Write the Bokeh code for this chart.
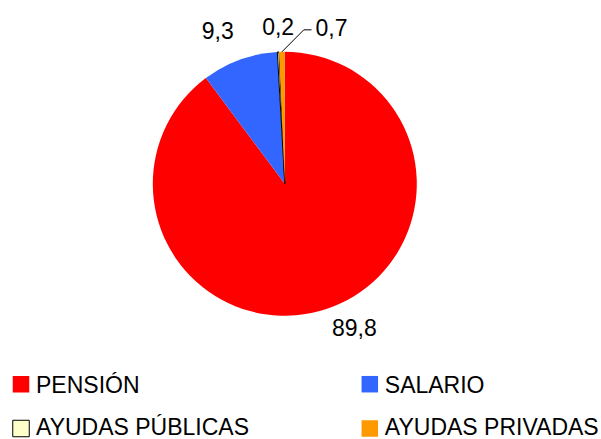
import numpy as np
from bokeh.plotting import figure
from bokeh.models import ColumnDataSource, Range1d
from bokeh.core.properties import value
from bokeh.embed import file_html
from bokeh.resources import INLINE

# ---- data ----
categories = ["PENSIÓN", "SALARIO", "AYUDAS PÚBLICAS", "AYUDAS PRIVADAS"]
values = [89.8, 9.3, 0.2, 0.7]
value_labels = ["89,8", "9,3", "0,2", "0,7"]
colors = ["#FF0000", "#3366FF", "#FFFFCC", "#FF9900"]
outline_alpha = [0, 0, 1, 0]

# ---- layout (pixels, y measured downward from top) ----
W, H = 601, 439
FONT = value("Liberation Sans")


def X(px):
    return px


def Y(py):
    return H - py


CX, CY, R = 284.3, 183.3, 132.0
# label centre offset from the slice's mid-edge point (dx right, dy down)
LABEL_OFFSETS = [(28, 18.7), (-22, -29), (0, -25), (49.6, -24.6)]
LEADER = {3: [(-27.7, 2.6), (-20, 2.6)]}
LEG_COLS = [20.5, 369.3]
LEG_ROWS = [383.7, 428.0]
LEG_TEXT_ROWS = [384.2, 426.0]
LEG_TEXT_DX = 15.0
SQ = 16.5

p = figure(width=W, height=H, x_range=Range1d(0, W), y_range=Range1d(0, H),
           output_backend="svg", toolbar_location=None, min_border=0,
           x_axis_type=None, y_axis_type=None)
p.grid.visible = False
p.outline_line_color = None
p.background_fill_color = "white"
p.border_fill_color = "white"

vals = np.array(values, dtype=float)
total = vals.sum()
cum_end = np.cumsum(vals) / total
cum_start = cum_end - vals / total
start_angle = np.pi / 2 - 2 * np.pi * cum_start
end_angle = np.pi / 2 - 2 * np.pi * cum_end

src = ColumnDataSource(dict(
    x=[X(CX)] * len(values), y=[Y(CY)] * len(values),
    start=start_angle, end=end_angle, color=colors, la=outline_alpha,
))
p.wedge(x="x", y="y", radius=R, start_angle="start", end_angle="end",
        direction="clock", fill_color="color", line_color="black",
        line_alpha="la", line_width=1, source=src)

# value labels
mid = 2 * np.pi * (cum_start + cum_end) / 2  # clockwise from top
lx, ly = [], []
for i, th in enumerate(mid):
    ex = CX + R * np.sin(th)
    ey = CY - R * np.cos(th)
    dx, dy = LABEL_OFFSETS[i]
    tx, ty = ex + dx, ey + dy
    lx.append(X(tx))
    ly.append(Y(ty))
    if i in LEADER:
        xs = [X(ex)] + [X(tx + a) for a, b in LEADER[i]]
        ys = [Y(ey)] + [Y(ty + b) for a, b in LEADER[i]]
        p.line(xs, ys, line_color="black", line_width=1)

p.text(x=lx, y=ly, text=value_labels, text_font=FONT, text_font_size="23px",
       text_align="center", text_baseline="middle", text_color="black")

# legend
sqx, sqy, tx, ty = [], [], [], []
for i in range(len(categories)):
    cx = LEG_COLS[i % 2]
    sqx.append(X(cx))
    sqy.append(Y(LEG_ROWS[i // 2]))
    tx.append(X(cx + LEG_TEXT_DX))
    ty.append(Y(LEG_TEXT_ROWS[i // 2]))
p.rect(x=sqx, y=sqy, width=SQ, height=SQ, fill_color=colors,
       line_color="black", line_alpha=outline_alpha, line_width=1)
p.text(x=tx, y=ty, text=categories, text_font=FONT, text_font_size="23px",
       text_align="left", text_baseline="middle", text_color="black")

open("out.html", "w").write(file_html(p, INLINE))
